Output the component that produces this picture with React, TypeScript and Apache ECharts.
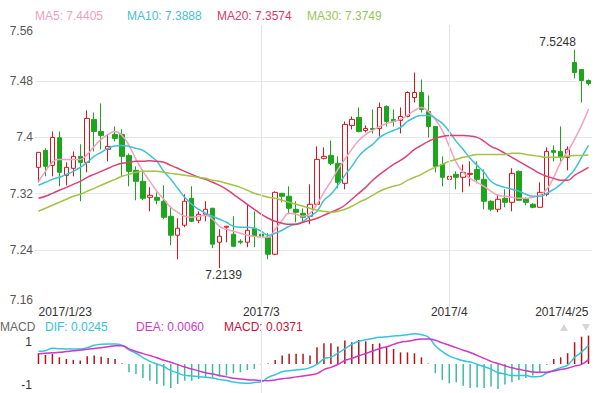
import { useEffect, useRef } from "react";
import * as echarts from "echarts";

const dates = [
  "2017/1/23", "2017/1/24", "2017/1/25", "2017/1/26", "2017/1/27", "2017/1/28",
  "2017/1/30", "2017/1/31", "2017/2/1", "2017/2/2", "2017/2/3", "2017/2/4",
  "2017/2/6", "2017/2/7", "2017/2/8", "2017/2/9", "2017/2/10", "2017/2/11",
  "2017/2/13", "2017/2/14", "2017/2/15", "2017/2/16", "2017/2/17", "2017/2/18",
  "2017/2/20", "2017/2/21", "2017/2/22", "2017/2/23", "2017/2/24", "2017/2/25",
  "2017/2/27", "2017/2/28", "2017/3/1", "2017/3/2", "2017/3/3", "2017/3/4",
  "2017/3/6", "2017/3/7", "2017/3/8", "2017/3/9", "2017/3/10", "2017/3/11",
  "2017/3/13", "2017/3/14", "2017/3/15", "2017/3/16", "2017/3/17", "2017/3/18",
  "2017/3/20", "2017/3/21", "2017/3/22", "2017/3/23", "2017/3/24", "2017/3/25",
  "2017/3/27", "2017/3/28", "2017/3/29", "2017/3/30", "2017/3/31", "2017/4/1",
  "2017/4/3", "2017/4/4", "2017/4/5", "2017/4/6", "2017/4/7", "2017/4/8",
  "2017/4/10", "2017/4/11", "2017/4/12", "2017/4/13", "2017/4/14", "2017/4/15",
  "2017/4/17", "2017/4/18", "2017/4/19", "2017/4/20", "2017/4/21", "2017/4/22",
  "2017/4/24", "2017/4/25",
];

const xTickLabels: Record<string, string> = {
  "2017/1/23": "2017/1/23",
  "2017/3/1": "2017/3",
  "2017/4/1": "2017/4",
  "2017/4/25": "2017/4/25",
};

// [open, close, low, high]
const candles = [
  [7.3574, 7.3787, 7.3361, 7.379], [7.3815, 7.3588, 7.3446, 7.3844], [7.3602, 7.4, 7.3446, 7.4085],
  [7.3995, 7.3503, 7.3304, 7.4085], [7.346, 7.3574, 7.3318, 7.3645], [7.356, 7.373, 7.3446, 7.3801],
  [7.373, 7.3645, 7.3091, 7.3901], [7.3645, 7.427, 7.3503, 7.4384], [7.4256, 7.4085, 7.3801, 7.4355],
  [7.4085, 7.4028, 7.383, 7.4483], [7.383, 7.3872, 7.3659, 7.4043], [7.4043, 7.3986, 7.3943, 7.4156],
  [7.4043, 7.373, 7.3446, 7.4114], [7.3744, 7.3517, 7.3304, 7.3773], [7.3531, 7.3375, 7.3105, 7.3588],
  [7.3375, 7.3133, 7.3105, 7.3545], [7.3147, 7.3176, 7.2948, 7.329], [7.3147, 7.3105, 7.3048, 7.3218],
  [7.3091, 7.2863, 7.2835, 7.3318], [7.2877, 7.2607, 7.2465, 7.3005], [7.2607, 7.2707, 7.2266, 7.2849],
  [7.275, 7.3091, 7.2721, 7.319], [7.3133, 7.2806, 7.2792, 7.3304], [7.282, 7.2906, 7.2778, 7.2948],
  [7.2906, 7.2977, 7.2806, 7.3091], [7.2991, 7.248, 7.2423, 7.3], [7.2508, 7.2593, 7.2139, 7.2693],
  [7.2721, 7.2735, 7.2508, 7.274], [7.2622, 7.2451, 7.2437, 7.2877], [7.2522, 7.2508, 7.248, 7.255],
  [7.2508, 7.2678, 7.2437, 7.3048], [7.2707, 7.2593, 7.2437, 7.2948], [7.2622, 7.2593, 7.2366, 7.2778],
  [7.2579, 7.2337, 7.2266, 7.2636], [7.2337, 7.3218, 7.2323, 7.3233], [7.3204, 7.3162, 7.3076, 7.321],
  [7.3162, 7.2991, 7.2906, 7.3304], [7.2977, 7.2934, 7.2792, 7.3091], [7.292, 7.2863, 7.2792, 7.2991],
  [7.2877, 7.3048, 7.2764, 7.3332], [7.3048, 7.3687, 7.3034, 7.3872], [7.3702, 7.373, 7.3687, 7.3858],
  [7.3744, 7.3631, 7.3602, 7.3957], [7.3631, 7.3361, 7.3275, 7.373], [7.3346, 7.4185, 7.3261, 7.4227],
  [7.4171, 7.4256, 7.4114, 7.4298], [7.4284, 7.4085, 7.4071, 7.4426], [7.4099, 7.4128, 7.4071, 7.4171],
  [7.4128, 7.4114, 7.4057, 7.4398], [7.4128, 7.4426, 7.4014, 7.4497], [7.4441, 7.4227, 7.4156, 7.4455],
  [7.4256, 7.4227, 7.4156, 7.4398], [7.4242, 7.4298, 7.4057, 7.4426], [7.4298, 7.4639, 7.4284, 7.4654],
  [7.4568, 7.4639, 7.4497, 7.4924], [7.4639, 7.4398, 7.4355, 7.4824], [7.4369, 7.4156, 7.4, 7.4597],
  [7.4156, 7.3588, 7.3503, 7.416], [7.3616, 7.3432, 7.3304, 7.373], [7.3403, 7.3446, 7.3375, 7.345],
  [7.3474, 7.3432, 7.3261, 7.3517], [7.3432, 7.3503, 7.3218, 7.3616], [7.3474, 7.3488, 7.3304, 7.3659],
  [7.3545, 7.3403, 7.3346, 7.3659], [7.3403, 7.3091, 7.2977, 7.3545], [7.3091, 7.2977, 7.2948, 7.3105],
  [7.2977, 7.3119, 7.2934, 7.319], [7.3133, 7.3076, 7.3005, 7.3261], [7.3076, 7.3488, 7.2948, 7.356],
  [7.3517, 7.3105, 7.3091, 7.3531], [7.3119, 7.3076, 7.3034, 7.3147], [7.3048, 7.3005, 7.2991, 7.3062],
  [7.3005, 7.3218, 7.3005, 7.3361], [7.319, 7.3801, 7.3162, 7.3858], [7.3815, 7.3787, 7.3659, 7.3886],
  [7.3801, 7.3716, 7.3659, 7.4156], [7.3716, 7.383, 7.3531, 7.3872], [7.5066, 7.4924, 7.4838, 7.5248],
  [7.4966, 7.481, 7.4497, 7.4966], [7.481, 7.4767, 7.474, 7.4824],
];

const ma5 = [
  7.3375, 7.3517, 7.3645, 7.3687, 7.3687, 7.3687, 7.3687, 7.3758, 7.3872, 7.3972,
  7.4043, 7.4085, 7.4028, 7.3886, 7.3687, 7.3517, 7.3375, 7.3233, 7.3119, 7.3005,
  7.2934, 7.2877, 7.2863, 7.2877, 7.2892, 7.2835, 7.2735, 7.2693, 7.2664, 7.2636,
  7.2607, 7.2593, 7.2579, 7.2579, 7.2693, 7.2821, 7.292, 7.2906, 7.2877, 7.292,
  7.3048, 7.3218, 7.3375, 7.3545, 7.3687, 7.3829, 7.3957, 7.4043, 7.4099, 7.4156,
  7.4199, 7.4227, 7.4256, 7.4313, 7.4384, 7.4426, 7.4369, 7.4256, 7.4099, 7.3872,
  7.3645, 7.3503, 7.3417, 7.3361, 7.3304, 7.3233, 7.3176, 7.3162, 7.3147, 7.3133,
  7.3133, 7.3147, 7.3176, 7.3261, 7.3432, 7.3645, 7.3801, 7.3972, 7.4171, 7.4405,
];

const ma10 = [
  7.3318, 7.3361, 7.3403, 7.3432, 7.3474, 7.3517, 7.3574, 7.3645, 7.373, 7.3787,
  7.3844, 7.3879, 7.3886, 7.3872, 7.3844, 7.3815, 7.3744, 7.3659, 7.3517, 7.3403,
  7.3275, 7.3147, 7.3048, 7.2977, 7.292, 7.2877, 7.2835, 7.2792, 7.2735, 7.2721,
  7.2721, 7.2707, 7.2664, 7.2607, 7.2636, 7.2678, 7.2735, 7.2764, 7.2806, 7.2877,
  7.2948, 7.3105, 7.319, 7.3318, 7.346, 7.3588, 7.373, 7.3829, 7.3901, 7.4,
  7.4057, 7.4099, 7.4142, 7.4227, 7.4284, 7.4313, 7.4313, 7.427, 7.4199, 7.4085,
  7.3943, 7.3829, 7.3702, 7.3602, 7.3503, 7.3375, 7.3318, 7.3289, 7.3261, 7.3233,
  7.319, 7.3162, 7.3162, 7.3204, 7.3261, 7.3332, 7.3432, 7.3545, 7.3716, 7.3888,
];

const ma20 = [
  7.3133, 7.3162, 7.3204, 7.3247, 7.3289, 7.3332, 7.3375, 7.3432, 7.3474, 7.3517,
  7.356, 7.3602, 7.3631, 7.3645, 7.3659, 7.3659, 7.3666, 7.3659, 7.3645, 7.3602,
  7.356, 7.3517, 7.3474, 7.3432, 7.3403, 7.3361, 7.3318, 7.3261, 7.319, 7.3119,
  7.3048, 7.2977, 7.2906, 7.2849, 7.2806, 7.2778, 7.2764, 7.2764, 7.2792, 7.2821,
  7.2849, 7.2892, 7.2934, 7.2977, 7.3034, 7.3119, 7.3204, 7.3289, 7.3389, 7.3474,
  7.3545, 7.3616, 7.3673, 7.3744, 7.3829, 7.3886, 7.3943, 7.3986, 7.4014, 7.4028,
  7.4028, 7.4028, 7.4021, 7.4, 7.3943, 7.3872, 7.3829, 7.3773, 7.3716, 7.3659,
  7.3602, 7.3545, 7.3488, 7.3446, 7.3417, 7.3389, 7.3389, 7.346, 7.3517, 7.3574,
];

const ma30 = [
  7.2948, 7.2991, 7.3034, 7.3076, 7.3119, 7.3162, 7.319, 7.3233, 7.3275, 7.3318,
  7.3361, 7.3403, 7.3446, 7.3474, 7.3503, 7.3517, 7.3517, 7.3517, 7.3503, 7.3488,
  7.3474, 7.346, 7.3446, 7.3432, 7.3417, 7.3389, 7.3375, 7.3346, 7.3318, 7.3289,
  7.3247, 7.3204, 7.3176, 7.3147, 7.3133, 7.3105, 7.3076, 7.3048, 7.302, 7.2991,
  7.2963, 7.2948, 7.2934, 7.2948, 7.2977, 7.302, 7.3076, 7.3119, 7.3176, 7.3233,
  7.3275, 7.3304, 7.3332, 7.3389, 7.3432, 7.3474, 7.3531, 7.3574, 7.3616, 7.3659,
  7.3687, 7.3716, 7.3737, 7.3758, 7.3758, 7.3758, 7.3758, 7.3758, 7.3773, 7.3773,
  7.3758, 7.3744, 7.373, 7.3716, 7.3716, 7.3716, 7.373, 7.3744, 7.3744, 7.3749,
];

// MACD panel values, in the panel's own axis units
const dif = [
  0.59, 0.62, 0.73, 0.71, 0.7, 0.7, 0.7, 0.76, 0.87, 0.92,
  0.93, 0.93, 0.87, 0.66, 0.5, 0.3, 0.12, 0.0, -0.13, -0.3,
  -0.42, -0.53, -0.56, -0.59, -0.62, -0.65, -0.72, -0.77, -0.84, -0.88,
  -0.9, -0.86, -0.83, -0.62, -0.5, -0.36, -0.31, -0.28, -0.25, -0.17,
  -0.02, 0.24, 0.32, 0.5, 0.7, 0.91, 1.05, 1.13, 1.19, 1.24,
  1.27, 1.3, 1.32, 1.36, 1.4, 1.36, 1.25, 0.85, 0.58, 0.38,
  0.25, 0.15, 0.09, -0.01, -0.12, -0.24, -0.4, -0.47, -0.54, -0.54,
  -0.54, -0.6, -0.58, -0.42, -0.29, -0.17, -0.05, 0.3, 0.55, 0.87,
];

const dea = [
  0.47, 0.5, 0.52, 0.54, 0.58, 0.61, 0.65, 0.68, 0.72, 0.76,
  0.8, 0.85, 0.85, 0.7, 0.58, 0.48, 0.39, 0.29, 0.17, 0.08,
  -0.03, -0.14, -0.23, -0.32, -0.41, -0.47, -0.54, -0.6, -0.66, -0.7,
  -0.73, -0.75, -0.77, -0.78, -0.74, -0.69, -0.65, -0.6, -0.56, -0.51,
  -0.45, -0.26, -0.16, -0.02, 0.16, 0.26, 0.38, 0.49, 0.6, 0.72,
  0.8, 0.91, 1.01, 1.06, 1.11, 1.16, 1.16, 1.1, 0.98, 0.87,
  0.76, 0.64, 0.53, 0.4, 0.26, 0.12, 0.02, -0.08, -0.18, -0.25,
  -0.31, -0.37, -0.39, -0.38, -0.33, -0.26, -0.2, -0.1, -0.02, 0.2,
];

const macd = [
  0.5, 0.42, 0.47, 0.31, 0.23, 0.19, 0.16, 0.36, 0.39, 0.34,
  0.28, 0.23, 0.02, -0.39, -0.47, -0.65, -0.78, -0.93, -1.01, -1.12,
  -0.93, -0.78, -0.78, -0.7, -0.65, -0.65, -0.59, -0.54, -0.43, -0.39,
  -0.28, -0.23, -0.05, 0.02, 0.19, 0.39, 0.47, 0.47, 0.47, 0.39,
  0.78, 0.96, 0.96, 0.81, 1.09, 1.01, 1.12, 1.05, 0.93, 0.96,
  0.78, 0.7, 0.54, 0.54, 0.5, 0.31, 0.02, -0.43, -0.74, -0.9,
  -0.85, -1.01, -1.12, -1.09, -1.12, -1.05, -1.16, -0.96, -0.85, -0.74,
  -0.65, -0.54, -0.43, -0.05, 0.23, 0.31, 0.5, 1.01, 1.27, 1.32,
];

const maNames = ["MA5", "MA10", "MA20", "MA30"];
const maLast = ["7.4405", "7.3888", "7.3574", "7.3749"];
const macdNames = ["DIF", "DEA", "MACD"];
const macdLast = ["0.0245", "0.0060", "0.0371"];
const macdTicks = [-1, 1];

const FONT = '"Liberation Sans", Arial, sans-serif';
const MA_COLORS = ["#f2a1be", "#3cc3d3", "#df3f73", "#a3c246"];
const MA_TEXT_COLORS = ["#f09ebf", "#46c0d2", "#d93a6a", "#9dc35a"];
const MA_TEXT_X = [35, 127, 217, 307];
const MACD_TEXT_COLORS = ["#33c3d8", "#c93cc6", "#c4123c"];
const MACD_TEXT_X = [45, 136, 224];
const UP = "#d9141c";
const DOWN = "#1ea51e";

export default function App() {
  const ref = useRef<HTMLDivElement>(null);

  useEffect(() => {
    document.body.style.margin = "0";
    if (!ref.current) return;
    const chart = echarts.init(ref.current, undefined, { renderer: "svg" });

    const maSeries = [ma5, ma10, ma20, ma30].map((d, i) => ({
      name: maNames[i],
      type: "line",
      xAxisIndex: 0,
      yAxisIndex: 0,
      data: d,
      showSymbol: false,
      smooth: true,
      lineStyle: { color: MA_COLORS[i], width: 1.5 },
      itemStyle: { color: MA_COLORS[i] },
      z: 3,
      silent: true,
    }));

    const graphics: any[] = [];
    maNames.forEach((n, i) => {
      graphics.push({
        type: "text",
        left: MA_TEXT_X[i],
        top: 10,
        style: { text: `${n}: ${maLast[i]}`, fill: MA_TEXT_COLORS[i], font: `12px ${FONT}` },
      });
    });
    graphics.push({
      type: "text",
      left: 0,
      top: 321,
      style: { text: "MACD", fill: "#666", font: `12px ${FONT}` },
    });
    macdNames.forEach((n, i) => {
      graphics.push({
        type: "text",
        left: MACD_TEXT_X[i],
        top: 321,
        style: { text: `${n}: ${macdLast[i]}`, fill: MACD_TEXT_COLORS[i], font: `12px ${FONT}` },
      });
    });
    graphics.push({
      type: "polygon",
      shape: { points: [[560, 331], [568, 331], [564, 324]] },
      style: { fill: "#d6d6d6" },
    });
    graphics.push({
      type: "polygon",
      shape: { points: [[582, 324], [590, 324], [586, 331]] },
      style: { fill: "#d6d6d6" },
    });

    chart.setOption({
      animation: false,
      textStyle: { fontFamily: FONT },
      grid: [
        { left: 35, right: 7, top: 25, height: 281 },
        { left: 35, right: 7, top: 330, height: 63 },
      ],
      xAxis: [
        {
          type: "category",
          gridIndex: 0,
          data: dates,
          boundaryGap: true,
          axisLine: { show: false },
          axisTick: { show: false },
          splitLine: { show: false },
          axisLabel: {
            interval: (_i: number, v: string) => v in xTickLabels,
            formatter: (v: string) => xTickLabels[v] ?? "",
            alignMinLabel: "left",
            alignMaxLabel: "right",
            color: "#333",
            fontSize: 12,
            margin: 0,
            fontFamily: FONT,
          },
        },
        {
          type: "category",
          gridIndex: 1,
          data: dates,
          boundaryGap: true,
          axisLine: { show: false },
          axisTick: { show: false },
          axisLabel: { show: false },
          splitLine: { show: false },
        },
      ],
      yAxis: [
        {
          type: "value",
          gridIndex: 0,
          min: 7.16,
          max: 7.56,
          interval: 0.08,
          axisLine: { show: false },
          axisTick: { show: false },
          splitLine: { show: true, showMinLine: false, showMaxLine: false, lineStyle: { color: "#e8e8e8", width: 1 } },
          axisLabel: {
            color: "#555",
            fontSize: 12,
            margin: 2,
            fontFamily: FONT,
            verticalAlignMinLabel: "bottom",
            verticalAlignMaxLabel: "top",
            formatter: (v: number) => String(+v.toFixed(2)),
          },
        },
        {
          type: "value",
          gridIndex: 1,
          min: -1.35,
          max: 1.58,
          axisLine: { show: false },
          axisTick: { show: false },
          splitLine: { show: false },
          axisLabel: {
            customValues: macdTicks,
            color: "#333",
            fontSize: 12,
            margin: 3,
            fontFamily: FONT,
          },
        },
      ],
      graphic: graphics,
      series: [
        {
          type: "candlestick",
          xAxisIndex: 0,
          yAxisIndex: 0,
          data: candles,
          barWidth: 5,
          itemStyle: {
            color: "#ffffff",
            color0: DOWN,
            borderColor: UP,
            borderColor0: DOWN,
            borderWidth: 1,
          },
          z: 2,
          silent: true,
          markPoint: {
            symbol: "circle",
            symbolSize: 0.1,
            silent: true,
            itemStyle: { color: "rgba(0,0,0,0)" },
            label: {
              show: true,
              color: "#333",
              fontSize: 12,
              fontFamily: FONT,
              formatter: (p: any) => Number(p.value).toFixed(4),
            },
            data: [
              { type: "max", valueDim: "highest", label: { offset: [-17, -8] } },
              { type: "min", valueDim: "lowest", label: { offset: [4, 7] } },
            ],
          },
          markLine: {
            silent: true,
            symbol: ["none", "none"],
            label: { show: false },
            lineStyle: { color: "#e4e4e4", type: "solid", width: 1 },
            data: [{ xAxis: "2017/3/1" }, { xAxis: "2017/4/1" }],
          },
        },
        ...maSeries,
        {
          type: "bar",
          name: "MACD",
          xAxisIndex: 1,
          yAxisIndex: 1,
          data: macd,
          barWidth: 1.5,
          silent: true,
          itemStyle: {
            color: (p: any) => (p.value >= 0 ? "#b0151c" : "#3dbb9c"),
          },
          markLine: {
            silent: true,
            symbol: ["none", "none"],
            label: { show: false },
            lineStyle: { color: "#e4e4e4", type: "solid", width: 1 },
            data: [{ xAxis: "2017/3/1" }],
          },
        },
        {
          type: "line",
          name: "DIF",
          xAxisIndex: 1,
          yAxisIndex: 1,
          data: dif,
          showSymbol: false,
          smooth: true,
          silent: true,
          lineStyle: { color: "#33c6da", width: 1.5 },
          z: 3,
        },
        {
          type: "line",
          name: "DEA",
          xAxisIndex: 1,
          yAxisIndex: 1,
          data: dea,
          showSymbol: false,
          smooth: true,
          silent: true,
          lineStyle: { color: "#d235c8", width: 1.5 },
          z: 3,
        },
      ],
    });

    return () => chart.dispose();
  }, []);

  return (
    <div
      ref={ref}
      style={{ position: "fixed", left: 0, top: 0, width: 599, height: 393, background: "#fff" }}
    />
  );
}
